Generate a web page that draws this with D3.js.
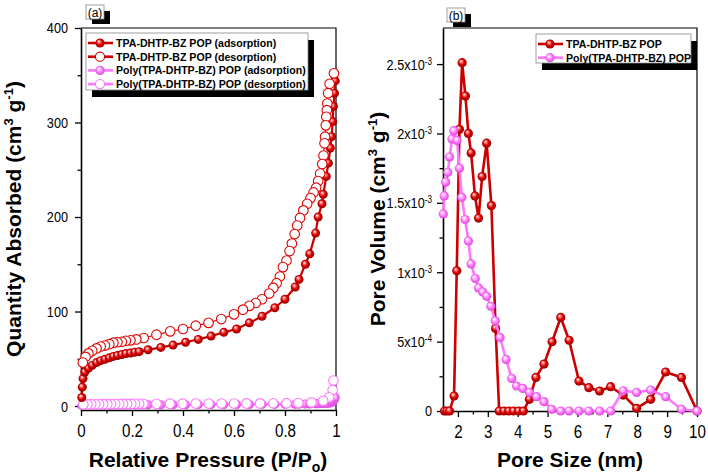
<!DOCTYPE html>
<html><head><meta charset="utf-8">
<script src="https://cdn.jsdelivr.net/npm/d3@7"></script>
<style>body{margin:0;background:#fff}svg{display:block}</style>
</head><body>
<svg id="c" width="708" height="474"></svg>
<script>
// ---------- Data: panel (a) N2 isotherms ----------
const redAdsP = [0.003,0.005,0.008,0.015,0.029,0.044,0.061,0.077,0.094,0.111,0.127,0.143,0.16,0.176,0.194,0.211,0.228,0.263,0.313,0.361,0.41,0.46,0.51,0.56,0.61,0.66,0.71,0.76,0.80,0.84,0.855,0.88,0.897,0.92,0.93,0.945,0.95,0.962,0.97,0.978,0.983,0.987,0.99,0.994,0.997];
const redAdsQ = [9,20,29,36,40,43,46,48,49.5,51,52.5,53.5,54.5,55.5,56,57,57.5,59.5,62,64.5,67.5,70.5,74,78,81.5,88,95,104,113,126,134,150,161,183,200,214,224,243,257,273,285,301,317,331,344];
const redDesP = [0.992,0.975,0.969,0.966,0.964,0.962,0.96,0.957,0.955,0.951,0.946,0.938,0.93,0.922,0.912,0.9,0.887,0.872,0.859,0.848,0.838,0.827,0.818,0.806,0.792,0.78,0.767,0.754,0.738,0.71,0.685,0.66,0.635,0.6,0.55,0.5,0.45,0.4,0.35,0.296,0.246,0.217,0.194,0.176,0.16,0.143,0.127,0.111,0.094,0.077,0.061,0.044,0.029,0.018,0.007];
const redDesQ = [352,341,331,320,313,306,297,285,278,265,256,246,238,231,226,220,214,207,199,191,182,172,164,154,147,137,130,125,119,113,109,106,102,97,92,88,85,81.5,79,75.5,72,70.5,69.5,69,68,67.5,67,65.5,64,63,61,58.5,55.7,52,46];
const pinkAdsP = redAdsP;
const pinkAdsQ = [0.5,0.7,0.8,0.9,1,1,1,1.1,1.1,1.1,1.2,1.2,1.2,1.2,1.3,1.3,1.3,1.3,1.4,1.4,1.4,1.5,1.5,1.5,1.6,1.6,1.7,1.7,1.8,1.9,2,2.1,2.2,2.3,2.4,2.5,2.6,2.8,3,3.3,3.8,4.5,5.5,7,9];
const pinkDesP = [0.99,0.987,0.973,0.95,0.904,0.852,0.806,0.754,0.702,0.649,0.6,0.551,0.501,0.45,0.398,0.349,0.296,0.244,0.228,0.212,0.197,0.181,0.165,0.15,0.134,0.118,0.103,0.087,0.071,0.056,0.04,0.025,0.009];
const pinkDesQ = [27,17,9.2,5.6,3.8,3.2,3,2.9,2.8,2.8,2.7,2.7,2.6,2.6,2.5,2.5,2.4,2.3,2.3,2.3,2.2,2.2,2.2,2.1,2.1,2.1,2,2,1.9,1.9,1.8,1.7,1.5];

// ---------- Data: panel (b) pore size distribution (volume in 1e-4 cm3/g) ----------
const redD = [1.55,1.63,1.72,1.87,1.96,2.05,2.14,2.25,2.35,2.44,2.57,2.69,2.81,2.96,3.12,3.26,3.38,3.54,3.70,3.86,4.03,4.19,4.39,4.61,4.88,5.15,5.44,5.72,6.05,6.38,6.74,7.11,7.53,7.98,8.45,8.95,9.48,10.0];
const redV = [0,0,0,1.08,10.1,20.3,25.1,22.7,20.0,18.6,15.5,13.9,16.9,19.3,14.8,5.95,0,0,0,0,0,0,0.84,2.42,3.38,4.99,6.74,5.1,2.16,1.68,1.44,1.75,1.15,0.19,0.84,2.81,2.42,0];
const pinkD = [1.51,1.54,1.59,1.66,1.72,1.80,1.86,1.97,2.05,2.13,2.24,2.35,2.44,2.58,2.69,2.83,2.96,3.10,3.25,3.41,3.61,3.80,3.96,4.17,4.39,4.63,4.88,5.14,5.44,5.72,6.05,6.38,6.74,7.11,7.53,7.98,8.45,8.95,9.48,10.0];
const pinkV = [14.2,15.5,16.5,17.2,18.3,19.6,20.2,19.5,17.5,15.4,13.8,12.25,10.6,9.55,8.87,8.58,8.27,7.55,6.5,5.3,3.72,2.35,1.8,1.63,1.34,1.03,0.67,0.12,0,0,0,0,0,0,1.46,1.34,1.51,1.03,0.12,0];

// ---------- Ticks / labels ----------
const xTicksA = [0,0.2,0.4,0.6,0.8,1];
const xTickLabelsA = ['0','0.2','0.4','0.6','0.8','1'];
const xMinorA = [0.1,0.3,0.5,0.7,0.9];
const yTicksA = [0,100,200,300,400];
const yMinorA = [50,150,250,350];
const xTicksB = [2,3,4,5,6,7,8,9,10];
const xMinorB = [1.5,2.5,3.5,4.5,5.5,6.5,7.5,8.5,9.5];
const yTicksB = [0,5,10,15,20,25];
const yTickMantissaB = ['0','5','1','1.5','2','2.5'];
const yTickExpB = ['', '-4','-3','-3','-3','-3'];
const yMinorB = [2.5,7.5,12.5,17.5,22.5];
const legendA = ['TPA-DHTP-BZ POP (adsorption)','TPA-DHTP-BZ POP (desorption)','Poly(TPA-DHTP-BZ) POP (adsorption)','Poly(TPA-DHTP-BZ) POP (desorption)'];
const legendB = ['TPA-DHTP-BZ POP','Poly(TPA-DHTP-BZ) POP'];

const RED = '#cc0000', PINK = '#ff77ff';
const SANS = "'Liberation Sans',Arial,sans-serif";
const NARROW_K = 0.82;

const svg = d3.select('#c');
const defs = svg.append('defs');
function grad(id, stops){
  const g = defs.append('radialGradient').attr('id',id).attr('cx','50%').attr('cy','50%').attr('r','55%').attr('fx','35%').attr('fy','30%');
  stops.forEach(s=>g.append('stop').attr('offset',s[0]).attr('stop-color',s[1]));
}
grad('gRed',[[0,'#ffffff'],[0.18,'#ff9c9c'],[0.55,'#dd0000'],[1,'#880000']]);
grad('gPink',[[0,'#ffffff'],[0.22,'#ffd6ff'],[0.6,'#ff70ff'],[1,'#cc44cc']]);

function styleAxis(g, size){
  g.selectAll('path.domain').attr('stroke','#000').attr('stroke-width',1.6);
  g.selectAll('.tick line').attr('stroke','#000').attr('stroke-width',1.3);
  g.selectAll('text').attr('fill','#000').style('font-family',SANS).style('font-size',size+'px');
}
function narrow(g){
  g.selectAll('.tick text').each(function(){
    const t = d3.select(this);
    const x = +t.attr('x') || 0;
    t.attr('x', x/NARROW_K).attr('transform',`scale(${NARROW_K},1)`);
  });
}

// ---------- Panel (a) ----------
const xA = d3.scaleLinear().domain([0,1]).range([81,336]);
const yA = d3.scaleLinear().domain([-4.2,400]).range([410,28]);

const gxA = svg.append('g').attr('transform','translate(0,410)')
  .call(d3.axisBottom(xA).tickValues(xTicksA).tickFormat((d,i)=>xTickLabelsA[i]).tickSizeInner(6).tickSizeOuter(0).tickPadding(8));
styleAxis(gxA,18.5); narrow(gxA);
const gxAm = svg.append('g').attr('transform','translate(0,410)')
  .call(d3.axisBottom(xA).tickValues(xMinorA).tickFormat('').tickSizeInner(3.5).tickSizeOuter(0));
gxAm.select('path.domain').remove(); styleAxis(gxAm,10);
const gyA = svg.append('g').attr('transform','translate(81,0)')
  .call(d3.axisLeft(yA).tickValues(yTicksA).tickFormat(d3.format('d')).tickSizeInner(6).tickSizeOuter(0).tickPadding(7));
styleAxis(gyA,15.5); narrow(gyA);
const gyAm = svg.append('g').attr('transform','translate(81,0)')
  .call(d3.axisLeft(yA).tickValues(yMinorA).tickFormat('').tickSizeInner(3.5).tickSizeOuter(0));
gyAm.select('path.domain').remove(); styleAxis(gyAm,10);
svg.append('path').attr('d',`M${xA(0)},${yA(400)}H${xA(1)}V${yA.range()[0]}`).attr('fill','none').attr('stroke','#000').attr('stroke-width',1.2);

const lineA = d3.line().x(d=>xA(d[0])).y(d=>yA(d[1]));
function series(g, line, pts, color, lw, r, filled, gradId){
  g.append('path').attr('d',line(pts)).attr('fill','none').attr('stroke',color).attr('stroke-width',lw).attr('stroke-linejoin','round');
  g.selectAll(null).data(pts).enter().append('circle')
    .attr('cx',d=>line.x()(d)).attr('cy',d=>line.y()(d)).attr('r',r)
    .attr('fill',filled?`url(#${gradId})`:'#fff')
    .attr('stroke',filled?'none':color).attr('stroke-width',1.1);
}
const gA = svg.append('g');
series(gA, lineA, pinkAdsP.map((p,i)=>[p,pinkAdsQ[i]]), PINK, 2, 4.5, true, 'gPink');
series(gA, lineA, pinkDesP.map((p,i)=>[p,pinkDesQ[i]]), PINK, 1.2, 4.8, false);
series(gA, lineA, redAdsP.map((p,i)=>[p,redAdsQ[i]]), RED, 2.2, 4.5, true, 'gRed');
series(gA, lineA, redDesP.map((p,i)=>[p,redDesQ[i]]), '#e00000', 1.1, 4.8, false);

// ---------- Panel (b) ----------
const xB = d3.scaleLinear().domain([1.5,10]).range([443,697]);
const yB = d3.scaleLinear().domain([0,27.6]).range([411,28]);
const gxB = svg.append('g').attr('transform','translate(0,411)')
  .call(d3.axisBottom(xB).tickValues(xTicksB).tickFormat(d3.format('d')).tickSizeInner(6).tickSizeOuter(0).tickPadding(8));
styleAxis(gxB,18.5); narrow(gxB);
const gxBm = svg.append('g').attr('transform','translate(0,411)')
  .call(d3.axisBottom(xB).tickValues(xMinorB).tickFormat('').tickSizeInner(3.5).tickSizeOuter(0));
gxBm.select('path.domain').remove(); styleAxis(gxBm,10);
const gyB = svg.append('g').attr('transform','translate(443,0)')
  .call(d3.axisLeft(yB).tickValues(yTicksB).tickFormat('').tickSizeInner(6).tickSizeOuter(0).tickPadding(5));
styleAxis(gyB,15.5);
gyB.selectAll('.tick text').each(function(d,i){
  const t = d3.select(this);
  t.text(null);
  if(yTickExpB[i]===''){ t.append('tspan').text(yTickMantissaB[i]); return; }
  t.append('tspan').text(yTickMantissaB[i]+'x10');
  t.append('tspan').attr('dy','-0.5em').style('font-size','10px').text(yTickExpB[i]);
});
narrow(gyB);
const gyBm = svg.append('g').attr('transform','translate(443,0)')
  .call(d3.axisLeft(yB).tickValues(yMinorB).tickFormat('').tickSizeInner(3.5).tickSizeOuter(0));
gyBm.select('path.domain').remove(); styleAxis(gyBm,10);
svg.append('path').attr('d',`M${xB(1.5)},${yB(27.6)}H${xB(10)}V${yB(0)}`).attr('fill','none').attr('stroke','#000').attr('stroke-width',1.2);

const lineB = d3.line().x(d=>xB(d[0])).y(d=>yB(d[1]));
const gB = svg.append('g');
series(gB, lineB, redD.map((x,i)=>[x,redV[i]]), RED, 2.6, 4.6, true, 'gRed');
series(gB, lineB, pinkD.map((x,i)=>[x,pinkV[i]]), PINK, 2.6, 4.6, true, 'gPink');

// ---------- Axis titles ----------
function title(x,y,rot,parts){
  const t = svg.append('text').attr('transform',`translate(${x},${y}) rotate(${rot})`)
    .attr('text-anchor','middle').style('font-family',SANS).style('font-weight','bold').style('font-size','21px').attr('fill','#000');
  parts.forEach(p=>{
    const s = t.append('tspan').text(p[0]);
    if(p[1]) s.attr('dy',p[1]);
    if(p[2]) s.style('font-size',p[2]+'px');
  });
}
title(208,467,0,[['Relative Pressure (P/P'],['o',5,14],[')',-5,21]]);
title(21,219,-90,[['Quantity Absorbed (cm'],['3',-8,13],[' g',8,21],['-1',-8,13],[')',8,21]]);
title(570,467,0,[['Pore Size (nm)']]);
title(385,219,-90,[['Pore Volume (cm'],['3',-8,13],[' g',8,21],['-1',-8,13],[')',8,21]]);

// ---------- Panel labels ----------
function panelLabel(x,y,txt){
  svg.append('rect').attr('x',x+6).attr('y',y+6).attr('width',18).attr('height',13).attr('fill','#000');
  svg.append('rect').attr('x',x).attr('y',y).attr('width',18).attr('height',14).attr('fill','#fff').attr('stroke','#888').attr('stroke-width',0.8);
  svg.append('text').attr('x',x+9).attr('y',y+11.5).attr('text-anchor','middle').style('font-family',SANS).style('font-size','12px').attr('fill','#000').text(txt);
}
panelLabel(86,5,'(a)');
panelLabel(447,8,'(b)');

// ---------- Legends ----------
function legend(x,y,w,h,items){
  svg.append('rect').attr('x',x+6).attr('y',y+7).attr('width',w).attr('height',h).attr('fill','#000');
  svg.append('rect').attr('x',x).attr('y',y).attr('width',w).attr('height',h).attr('fill','#fff').attr('stroke','#888').attr('stroke-width',0.8);
  items.forEach((it,i)=>{
    const cy = y+10+i*13.7;
    svg.append('line').attr('x1',x+2).attr('x2',x+27).attr('y1',cy).attr('y2',cy).attr('stroke',it.color).attr('stroke-width',2.6);
    svg.append('circle').attr('cx',x+14).attr('cy',cy).attr('r',4.6)
      .attr('fill',it.filled?`url(#${it.grad})`:'#fff').attr('stroke',it.filled?'none':it.color).attr('stroke-width',1.1);
    svg.append('text').attr('x',x+30).attr('y',cy+3.8).style('font-family',SANS).style('font-weight','bold').style('font-size','10.6px').attr('fill','#000').text(it.label);
  });
}
legend(86,33,222,57,[
  {label:legendA[0],color:RED,filled:true,grad:'gRed'},
  {label:legendA[1],color:RED,filled:false},
  {label:legendA[2],color:PINK,filled:true,grad:'gPink'},
  {label:legendA[3],color:PINK,filled:false}]);
legend(536,34,155,29,[
  {label:legendB[0],color:RED,filled:true,grad:'gRed'},
  {label:legendB[1],color:PINK,filled:true,grad:'gPink'}]);
</script>
</body></html>
